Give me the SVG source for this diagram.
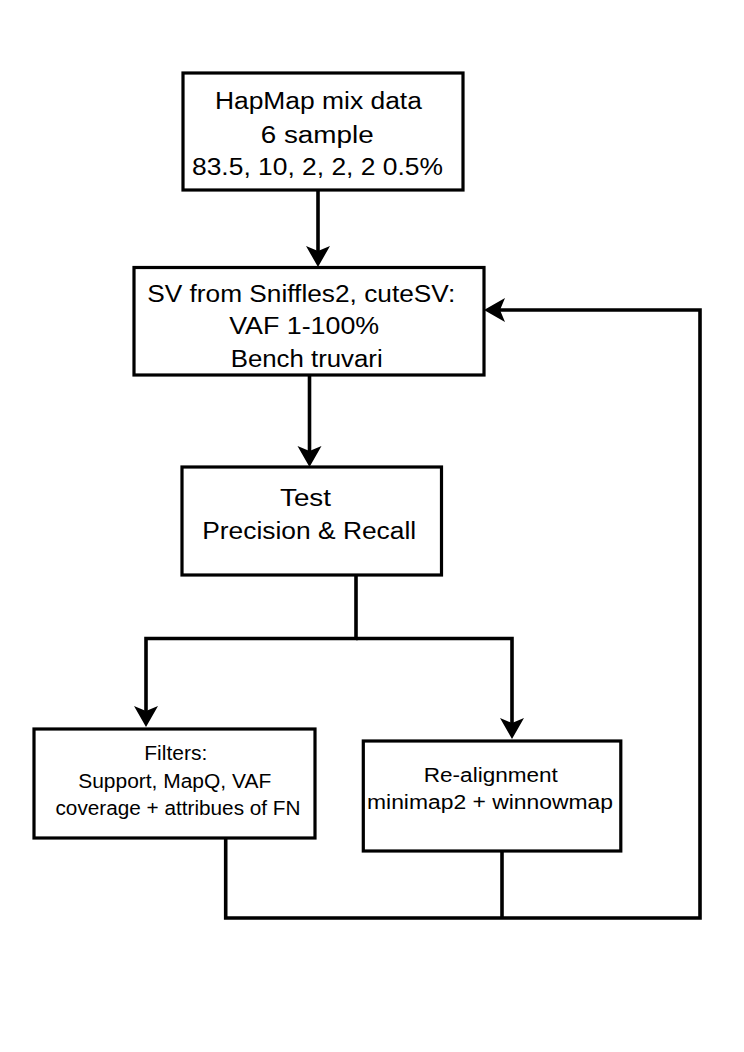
<svg xmlns="http://www.w3.org/2000/svg" width="744" height="1052" viewBox="0 0 744 1052">
<style>
.box{fill:#fff;stroke:#000;stroke-width:3.2}
.lbl{font-family:"Liberation Sans",Arial,Helvetica,sans-serif;fill:#000;text-anchor:middle}
.big{font-size:23.5px}
.small{font-size:20px}
.conn{fill:none;stroke:#000;stroke-width:3.6;stroke-linejoin:miter}
</style>
<defs>
<marker id="arr" markerUnits="userSpaceOnUse" markerWidth="22" markerHeight="24" viewBox="0 0 22 24" refX="5" refY="12" orient="auto" overflow="visible">
<path d="M21,12 L0,0 L5,12 L0,24 Z" fill="#000"/>
</marker>
</defs>
<rect width="744" height="1052" fill="#fff"/>
<g id="connectors">
<path class="conn" d="M318,190 V251" marker-end="url(#arr)"/>
<path class="conn" d="M309.5,375 V451" marker-end="url(#arr)"/>
<path class="conn" d="M356,576 V638.5 H146 V711" marker-end="url(#arr)"/>
<path class="conn" d="M356,638.5 H512 V723" marker-end="url(#arr)"/>
<path class="conn" d="M225.7,838 V918 H700 V310 H500" marker-end="url(#arr)"/>
<path class="conn" d="M502,851 V918"/>
</g>
<g id="node-hapmap">
<rect class="box" x="183" y="73" width="280" height="117"/>
<text class="lbl big" x="318.4" y="109.3" textLength="207" lengthAdjust="spacingAndGlyphs">HapMap mix data</text>
<text class="lbl big" x="317.2" y="142.7" textLength="113" lengthAdjust="spacingAndGlyphs">6 sample</text>
<text class="lbl big" x="317.5" y="175" textLength="251" lengthAdjust="spacingAndGlyphs">83.5, 10, 2, 2, 2 0.5%</text>
</g>
<g id="node-sv">
<rect class="box" x="134" y="267.5" width="350" height="107.5"/>
<text class="lbl big" x="301.2" y="302.3" textLength="308" lengthAdjust="spacingAndGlyphs">SV from Sniffles2, cuteSV:</text>
<text class="lbl big" x="304.2" y="333.5" textLength="150" lengthAdjust="spacingAndGlyphs">VAF 1-100%</text>
<text class="lbl big" x="306.7" y="367" textLength="152" lengthAdjust="spacingAndGlyphs">Bench truvari</text>
</g>
<g id="node-test">
<rect class="box" x="182" y="467" width="259.5" height="108"/>
<text class="lbl big" x="305.5" y="506" textLength="51" lengthAdjust="spacingAndGlyphs">Test</text>
<text class="lbl big" x="309.2" y="539.3" textLength="214" lengthAdjust="spacingAndGlyphs">Precision &amp; Recall</text>
</g>
<g id="node-filters">
<rect class="box" x="34" y="729" width="281" height="109"/>
<text class="lbl small" x="175.8" y="760" textLength="63" lengthAdjust="spacingAndGlyphs">Filters:</text>
<text class="lbl small" x="174.7" y="787.7" textLength="193" lengthAdjust="spacingAndGlyphs">Support, MapQ, VAF</text>
<text class="lbl small" x="178" y="815" textLength="245" lengthAdjust="spacingAndGlyphs">coverage + attribues of FN</text>
</g>
<g id="node-realign">
<rect class="box" x="363.3" y="741" width="257.5" height="110"/>
<text class="lbl small" x="490.8" y="781.7" textLength="134" lengthAdjust="spacingAndGlyphs">Re-alignment</text>
<text class="lbl small" x="490" y="809" textLength="246" lengthAdjust="spacingAndGlyphs">minimap2 + winnowmap</text>
</g>
</svg>
